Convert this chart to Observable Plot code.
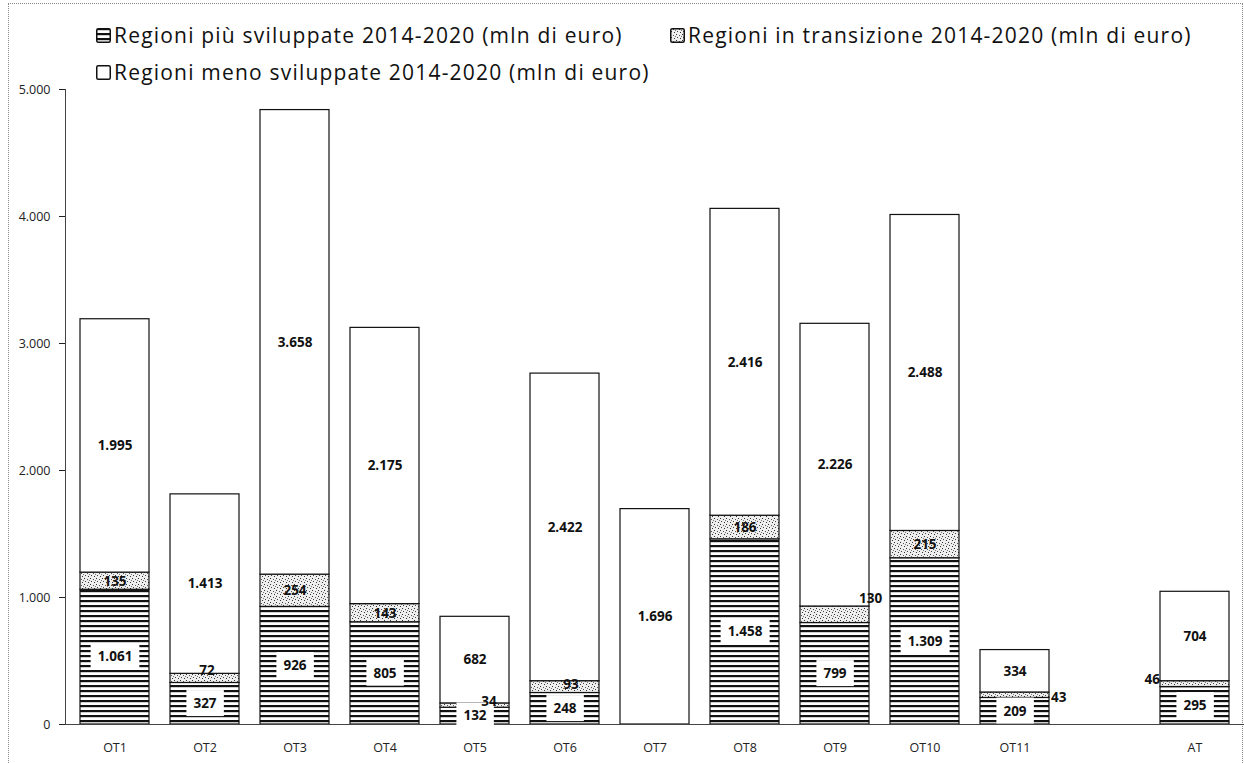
<!DOCTYPE html>
<html><head><meta charset="utf-8">
<script src="https://cdn.jsdelivr.net/npm/d3@7"></script>
<script src="https://cdn.jsdelivr.net/npm/@observablehq/plot@0.6"></script>
<style>
body{margin:0;background:#fff;font-family:"Open Sans",sans-serif;}
#chart{position:relative;width:1244px;height:763px;overflow:hidden;background:#fff;}
#frame{position:absolute;left:8px;top:3px;width:1235px;height:800px;border:1px dotted #888;box-sizing:border-box;}
#legend{position:absolute;left:96px;top:18px;font-size:21px;letter-spacing:1.2px;color:#111;}
.item{position:absolute;white-space:nowrap;display:flex;align-items:center;gap:3px;height:34px;}
.item svg{display:block}
#plot{position:absolute;left:0;top:80px;}
</style></head><body>
<svg width="0" height="0" style="position:absolute">
  <defs>
    <pattern id="stripes" patternUnits="userSpaceOnUse" width="8" height="5">
      <rect width="8" height="5" fill="#fff"/>
      <rect y="0" width="8" height="2.2" fill="#111"/>
    </pattern>
    <pattern id="dots" patternUnits="userSpaceOnUse" width="6" height="6">
      <rect width="6" height="6" fill="#eee"/>
      <rect x="0" y="0" width="1" height="1" fill="#333"/>
      <rect x="3" y="1" width="1" height="1" fill="#555"/>
      <rect x="1" y="3" width="1" height="1" fill="#444"/>
      <rect x="4" y="4" width="1" height="1" fill="#333"/>
      <rect x="5" y="2" width="1" height="1" fill="#777"/>
    </pattern>
  </defs>
</svg>
<div id="chart">
  <div id="frame"></div>
  <div id="legend"></div>
  <div id="plot"></div>
</div>
<script>
const categories = ["OT1","OT2","OT3","OT4","OT5","OT6","OT7","OT8","OT9","OT10","OT11","AT"];
const gapSlot = " ";
const xDomain = [...categories.slice(0, 11), gapSlot, "AT"];
const seriesNames = [
  "Regioni più sviluppate 2014-2020 (mln di euro)",
  "Regioni in transizione 2014-2020 (mln di euro)",
  "Regioni meno sviluppate 2014-2020 (mln di euro)"
];
const piuSviluppate = [1061, 327, 926, 805, 132, 248, 0, 1458, 799, 1309, 209, 295];
const inTransizione = [135, 72, 254, 143, 34, 93, 0, 186, 130, 215, 43, 46];
const menoSviluppate = [1995, 1413, 3658, 2175, 682, 2422, 1696, 2416, 2226, 2488, 334, 704];
const yTicks = [0, 1000, 2000, 3000, 4000, 5000];

const fills = ["url(#stripes)", "url(#dots)", "#fff"];

// placement tweaks for labels drawn outside their segment
const labelNudge = {
  "OT5|1": {dx: 14, dy: -4},
  "OT9|1": {dx: 24, dy: -16, anchor: "start"},
  "OT11|1": {dx: 36, dy: 2, anchor: "start"},
  "AT|1": {dx: -35, dy: -4, anchor: "end"},
  "OT2|1": {dx: 2, dy: -8},
  "OT6|1": {dx: 6, dy: -2}
};

const seriesValues = [piuSviluppate, inTransizione, menoSviluppate];
const rows = [];
categories.forEach((c, i) => {
  let acc = 0;
  seriesValues.forEach((vals, s) => {
    const v = vals[i];
    rows.push({cat: c, s, serie: seriesNames[s], value: v, y1: acc, y2: acc + v, mid: acc + v / 2});
    acc += v;
  });
});

const fmt = v => d3.format(",")(v).replace(/,/g, ".");

const labelRows = rows.filter(d => d.value > 0 && !(d.cat === "OT7" && d.s < 2));
const plainRows = labelRows.filter(d => !labelNudge[d.cat + "|" + d.s]);
const boxed = plainRows.filter(d => d.s !== 1);
const dotted = plainRows.filter(d => d.s === 1);

const marks = [
  Plot.barY(rows.filter(d => d.value > 0), {
    x: "cat", y1: "y1", y2: "y2", fill: d => fills[d.s], stroke: "#111", strokeWidth: 1.2
  }),
  Plot.ruleY([0], {stroke: "#444"}),
  Plot.text(boxed, {
    x: "cat", y: "mid", text: d => fmt(d.value), fill: "#111",
    fontWeight: "bold", fontSize: 13.5, className: "boxed-label"
  }),
  Plot.text(dotted, {
    x: "cat", y: "mid", text: d => fmt(d.value), fill: "#111",
    fontWeight: "bold", fontSize: 13.5
  })
];
Object.entries(labelNudge).forEach(([key, n]) => {
  const [cat, s] = key.split("|");
  const d = rows.filter(r => r.cat === cat && r.s === +s);
  marks.push(Plot.text(d, {
    x: "cat", y: "mid", text: r => fmt(r.value), fill: "#111",
    dx: n.dx, dy: n.dy, textAnchor: n.anchor || "middle",
    fontWeight: "bold", fontSize: 13.5
  }));
});

const plot = Plot.plot({
  width: 1244,
  height: 683,
  marginTop: 9,
  marginBottom: 39,
  marginLeft: 65,
  marginRight: 0,
  style: {fontFamily: "Open Sans, sans-serif", fontSize: "12.5px", color: "#222", background: "transparent"},
  x: {domain: xDomain, paddingInner: 0.23, paddingOuter: 0.115, label: null, tickSize: 0, tickPadding: 19},
  y: {domain: [0, 5000], ticks: yTicks, tickFormat: fmt, label: null, tickSize: 6, tickPadding: 9},
  marks: [
    Plot.frame({anchor: "left", stroke: "#444"}),
    ...marks
  ]
});
document.getElementById("plot").appendChild(plot);

// white label boxes behind the labels drawn on the bars
const svgNS = "http://www.w3.org/2000/svg";
plot.querySelectorAll("g.boxed-label text").forEach(t => {
  const b = t.getBBox();
  const r = document.createElementNS(svgNS, "rect");
  r.setAttribute("x", b.x - 7);
  r.setAttribute("y", b.y - 4);
  r.setAttribute("width", b.width + 14);
  r.setAttribute("height", b.height + 8);
  r.setAttribute("fill", "#fff");
  const tr = t.getAttribute("transform");
  if (tr) r.setAttribute("transform", tr);
  t.parentNode.insertBefore(r, t);
});

// legend
const legend = document.getElementById("legend");
const legendPos = [[0, 0], [574, 0], [0, 37]];
seriesNames.forEach((name, s) => {
  const div = document.createElement("div");
  div.className = "item";
  div.style.left = legendPos[s][0] + "px";
  div.style.top = legendPos[s][1] + "px";
  div.innerHTML = `<svg width="15" height="15"><rect x="0.75" y="0.75" width="13.5" height="13.5" rx="1.5" fill="${fills[s]}" stroke="#111" stroke-width="1.5"/></svg><span>${name}</span>`;
  legend.appendChild(div);
});
</script>
</body></html>
